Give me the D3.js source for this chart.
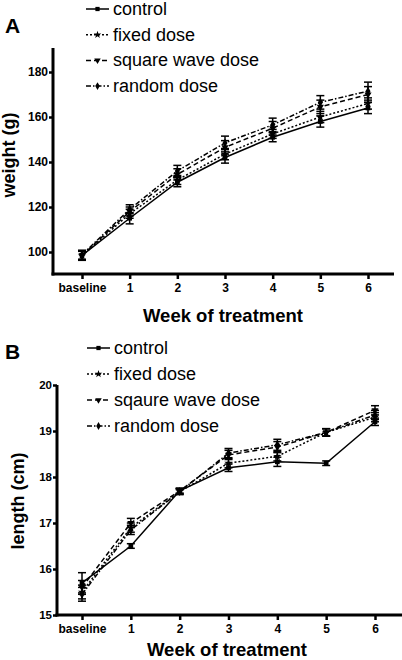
<!DOCTYPE html>
<html><head><meta charset="utf-8">
<script src="https://cdn.jsdelivr.net/npm/d3@7"></script>
<style>body{margin:0;background:#fff}svg{display:block}</style>
</head><body>
<svg id="c" width="402" height="660"></svg>
<script>
const categories = ["baseline","1","2","3","4","5","6"];
const seriesNamesA = ["control","fixed dose","square wave dose","random dose"];
const seriesNamesB = ["control","fixed dose","sqaure wave dose","random dose"];

const weightControl = [98.5,115,131,142,151,158,164];
const weightFixed   = [98.3,117,132,143.5,152.5,160,166];
const weightSquare  = [98.5,118,134.5,146.5,155,164.5,170];
const weightRandom  = [98.8,119,136,148.5,156.5,166.5,171.5];
const weightErrControl = [2,2.5,2,2.5,2,2.5,2.5];
const weightErrFixed   = [2,2,2,2.5,2,2.5,2.5];
const weightErrSquare  = [2,2,2.5,3,3,3,3.5];
const weightErrRandom  = [2,2,2.5,3,3,3,4];
const weightTicks = [100,120,140,160,180];

const lengthControl = [15.7,16.5,17.7,18.2,18.33,18.3,19.2];
const lengthFixed   = [15.5,16.9,17.68,18.3,18.45,18.97,19.3];
const lengthSquare  = [15.6,17.0,17.7,18.48,18.65,18.97,19.45];
const lengthRandom  = [15.45,16.85,17.68,18.52,18.7,18.97,19.35];
const lengthErrControl = [0.22,0.05,0.05,0.08,0.1,0.05,0.08];
const lengthErrFixed   = [0.15,0.1,0.06,0.1,0.1,0.08,0.1];
const lengthErrSquare  = [0.15,0.1,0.06,0.1,0.12,0.08,0.1];
const lengthErrRandom  = [0.15,0.1,0.06,0.1,0.12,0.08,0.1];
const lengthTicks = [15,16,17,18,19,20];

const dashes = [null, "2,2", "5,3", "5,2,1.5,2"];
const markers = [d3.symbolSquare, d3.symbolStar, d3.symbolTriangle, d3.symbolDiamond];
const markerRot = [0,0,180,0];
const FONT = "'Liberation Sans', Arial, Helvetica, sans-serif";

const svg = d3.select("#c");

function panel(o){
  const g = svg.append("g");
  const x = d3.scalePoint().domain(categories).range(o.xr);
  const y = d3.scaleLinear().domain(o.yd).range(o.yr);
  // axes
  const ya = g.append("g").attr("transform",`translate(${o.x0},0)`)
    .call(d3.axisLeft(y).tickValues(o.ticks).tickFormat(d3.format("d")).tickSize(4).tickSizeOuter(0).tickPadding(1));
  ya.select(".domain").remove();
  ya.selectAll(".tick line").attr("stroke","#000").attr("stroke-width",2.5);
  ya.selectAll("text").attr("font-family",FONT).attr("font-weight","bold").attr("font-size",o.yfs).attr("fill","#000");
  g.append("line").attr("x1",o.x0).attr("x2",o.x0).attr("y1",o.ytop).attr("y2",o.y0+1.5).attr("stroke","#000").attr("stroke-width",3);
  const xa = g.append("g").attr("transform",`translate(0,${o.y0})`)
    .call(d3.axisBottom(x).tickSize(5).tickSizeOuter(0).tickPadding(4));
  xa.select(".domain").remove();
  xa.selectAll(".tick line").attr("stroke","#000").attr("stroke-width",2.5);
  xa.selectAll("text").attr("font-family",FONT).attr("font-weight","bold").attr("font-size",12).attr("fill","#000");
  g.append("line").attr("x1",o.x0-1.5).attr("x2",o.xend).attr("y1",o.y0).attr("y2",o.y0).attr("stroke","#000").attr("stroke-width",3);

  // series
  o.series.forEach((s,i)=>{
    const pts = categories.map((c,j)=>({c, v:s.v[j], e:s.e[j]}));
    const line = d3.line().x(d=>x(d.c)).y(d=>y(d.v));
    g.append("path").datum(pts).attr("d",line).attr("fill","none").attr("stroke","#000")
      .attr("stroke-width",1.5).attr("stroke-dasharray",dashes[i]);
    const eb = g.append("g");
    pts.forEach(d=>{
      const cx = x(d.c), t = y(d.v+d.e), b = y(d.v-d.e);
      eb.append("line").attr("x1",cx).attr("x2",cx).attr("y1",t).attr("y2",b).attr("stroke","#000").attr("stroke-width",1.5);
      eb.append("line").attr("x1",cx-4).attr("x2",cx+4).attr("y1",t).attr("y2",t).attr("stroke","#000").attr("stroke-width",1.5);
      eb.append("line").attr("x1",cx-4).attr("x2",cx+4).attr("y1",b).attr("y2",b).attr("stroke","#000").attr("stroke-width",1.5);
      eb.append("path").attr("d",d3.symbol().type(markers[i]).size(22)())
        .attr("transform",`translate(${cx},${y(d.v)}) rotate(${markerRot[i]})`).attr("fill","#000");
    });
  });

  // legend
  o.names.forEach((n,i)=>{
    const ly = o.legY + i*o.legStep;
    g.append("line").attr("x1",o.legX).attr("x2",o.legX+23).attr("y1",ly-6).attr("y2",ly-6)
      .attr("stroke","#000").attr("stroke-width",1.5).attr("stroke-dasharray",dashes[i]);
    g.append("path").attr("d",d3.symbol().type(markers[i]).size(18)())
      .attr("transform",`translate(${o.legX+11.5},${ly-6}) rotate(${markerRot[i]})`).attr("fill","#000");
    g.append("text").attr("x",o.legX+27).attr("y",ly).text(n)
      .attr("font-family",FONT).attr("font-size",18).attr("fill","#000");
  });

  // titles
  g.append("text").attr("x",o.labX).attr("y",o.labY).text(o.label)
    .attr("font-family",FONT).attr("font-weight","bold").attr("font-size",21);
  g.append("text").attr("transform",`translate(${o.ytX},${o.ytY}) rotate(-90)`).attr("text-anchor","middle")
    .text(o.ytitle).attr("font-family",FONT).attr("font-weight","bold").attr("font-size",18);
  g.append("text").attr("x",o.xtX).attr("y",o.xtY).attr("text-anchor","middle")
    .text("Week of treatment").attr("font-family",FONT).attr("font-weight","bold").attr("font-size",18.5);
}

panel({
  xr:[82,368], x0:53, y0:274, xend:394, ytop:48,
  yd:[90,190], yr:[274.5,49.5], ticks:weightTicks, yfs:12,
  series:[
    {v:weightControl,e:weightErrControl},
    {v:weightFixed,e:weightErrFixed},
    {v:weightSquare,e:weightErrSquare},
    {v:weightRandom,e:weightErrRandom}],
  names:seriesNamesA, legX:86, legY:15, legStep:25.7,
  label:"A", labX:5, labY:33,
  ytitle:"weight (g)", ytX:15, ytY:155,
  xtX:223, xtY:322
});

panel({
  xr:[82,375], x0:57, y0:615, xend:402, ytop:385,
  yd:[15,20], yr:[615,385], ticks:lengthTicks, yfs:11.5,
  series:[
    {v:lengthControl,e:lengthErrControl},
    {v:lengthFixed,e:lengthErrFixed},
    {v:lengthSquare,e:lengthErrSquare},
    {v:lengthRandom,e:lengthErrRandom}],
  names:seriesNamesB, legX:87, legY:354, legStep:26,
  label:"B", labX:5, labY:359,
  ytitle:"length (cm)", ytX:24, ytY:501,
  xtX:227, xtY:656
});
</script>
</body></html>
